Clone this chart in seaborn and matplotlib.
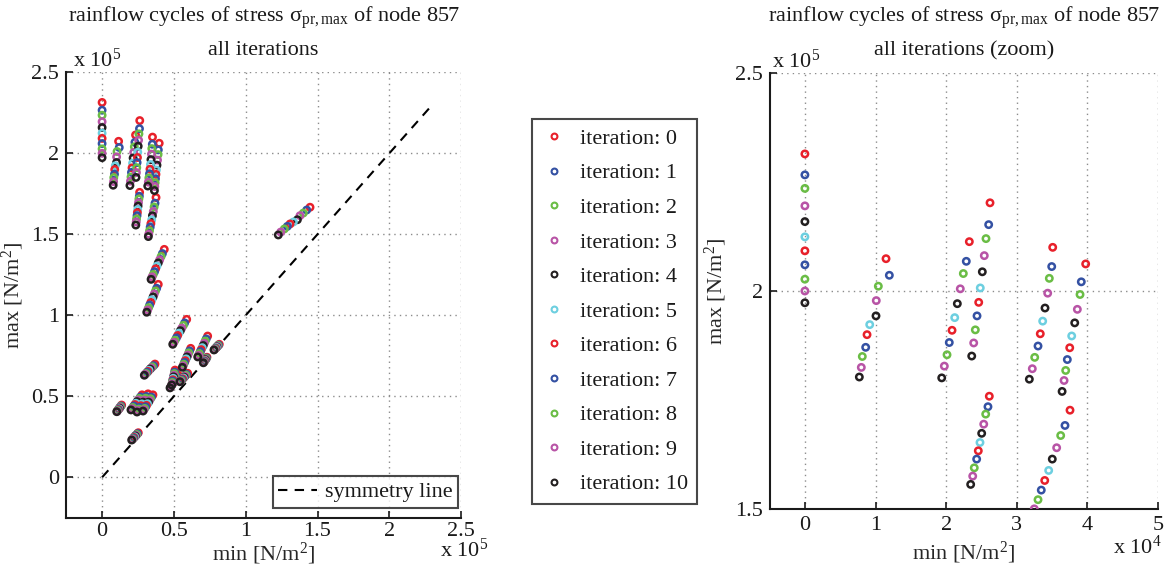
import matplotlib
matplotlib.use("Agg")
import matplotlib.pyplot as plt
import seaborn as sns
import pandas as pd
from matplotlib.ticker import FuncFormatter, MultipleLocator
from matplotlib.lines import Line2D

# ---------------- data (N/m^2) ----------------
iterations = [0, 1, 2, 3, 4, 5, 6, 7, 8, 9, 10]
iteration_labels = ["iteration: %d" % i for i in iterations]
iter_colors = ["#E8202A", "#3451A3", "#6ABD45", "#B854A6", "#231F20", "#6DCFE0",
               "#E8202A", "#3451A3", "#6ABD45", "#B854A6", "#231F20"]

# each cycle: min / max value for iterations 0..10
cA_min = [0, 0, 0, 0, 0, 0, 0, 0, 0, 0, 0]
cA_max = [231400, 226600, 223500, 219500, 215900, 212400, 209200, 206000, 202700, 200000, 197300]
cB_min = [11490, 11960, 10400, 10110, 10070, 9180, 8800, 8610, 8130, 7990, 7710]
cB_max = [207400, 203600, 201100, 197800, 194300, 192300, 190000, 187100, 185000, 182500, 180300]
cG_min = [26220, 26030, 25650, 25410, 25130, 24840, 24620, 24380, 24140, 23910, 23630]
cG_max = [220200, 215200, 212000, 208100, 204400, 200700, 197400, 194300, 191100, 188100, 185100]
cH_min = [23290, 22860, 22440, 22010, 21590, 21220, 20840, 20450, 20130, 19750, 19380]
cH_max = [211300, 206800, 204000, 200500, 197100, 193900, 191000, 188200, 185400, 182800, 180100]
cI_min = [26120, 25930, 25610, 25330, 25040, 24800, 24560, 24330, 23990, 23770, 23480]
cI_max = [175900, 173500, 171800, 169500, 167400, 165300, 163400, 161500, 159500, 157600, 155700]
cD_min = [35100, 34960, 34620, 34390, 34010, 33680, 33340, 33020, 32550, 32210, 31790]
cD_max = [210000, 205600, 202900, 199500, 196100, 193100, 190200, 187400, 184800, 182200, 179800]
cE_min = [39770, 39150, 38970, 38590, 38220, 37790, 37510, 37170, 36940, 36710, 36430]
cE_max = [206200, 202100, 199200, 195800, 192700, 189700, 187000, 184300, 181800, 179500, 177000]
cF_min = [37550, 36840, 36230, 35660, 35040, 34530, 33970, 33480, 33020, 32490, 32200]
cF_max = [172700, 169200, 166900, 164100, 161500, 158900, 156600, 154400, 152200, 150100, 148600]
cJ_min = [144800, 142500, 140100, 137800, 136000, 133200, 130900, 129000, 126900, 124400, 122700]
cJ_max = [166700, 165000, 163100, 161500, 159000, 157600, 156400, 154900, 153300, 151400, 149600]
cK_min = [43300, 42000, 41100, 40100, 39100, 38200, 37300, 36500, 35600, 34800, 34100]
cK_max = [140700, 138100, 136300, 134200, 132300, 130400, 128700, 126900, 125200, 123700, 122200]
cL_min = [39100, 38000, 37200, 36300, 35500, 34700, 33900, 33100, 32400, 31700, 31100]
cL_max = [119100, 116700, 115000, 113100, 111300, 109600, 107900, 106300, 104700, 103300, 101900]
cM_min = [58900, 57500, 56600, 55500, 54500, 53500, 52600, 51700, 50800, 50000, 49200]
cM_max = [97500, 95300, 93800, 92100, 90500, 89000, 87500, 86000, 84600, 83300, 82100]
cN_min = [36800, 35800, 35000, 34200, 33400, 32700, 32000, 31300, 30600, 30000, 29400]
cN_max = [69900, 68900, 68200, 67500, 66800, 66100, 65400, 64800, 64100, 63600, 63000]
cO_min = [73500, 72500, 71800, 71100, 70400, 69700, 69000, 68400, 67700, 67200, 66600]
cO_max = [87200, 85400, 84100, 82700, 81300, 80000, 78800, 77600, 76400, 75300, 74300]
cP_min = [61700, 60900, 60300, 59700, 59100, 58500, 57900, 57400, 56800, 56400, 55900]
cP_max = [79600, 78000, 76800, 75500, 74300, 73100, 72000, 70900, 69800, 68800, 67900]
cQ_min = [81600, 81100, 80700, 80300, 79900, 79600, 79200, 78800, 78500, 78200, 77900]
cQ_max = [82100, 81600, 81300, 80900, 80500, 80200, 79800, 79500, 79200, 78900, 78600]
cR_min = [73000, 72700, 72400, 72100, 71900, 71600, 71400, 71100, 70900, 70700, 70500]
cR_max = [74100, 73600, 73300, 72900, 72600, 72200, 71900, 71600, 71200, 71000, 70700]
cS_min = [50800, 50500, 50300, 50000, 49800, 49500, 49300, 49100, 48900, 48700, 48500]
cS_max = [66200, 64900, 64000, 63000, 62000, 61100, 60200, 59400, 58500, 57700, 57000]
cT_min = [59600, 58800, 58300, 57700, 57100, 56600, 56100, 55600, 55100, 54600, 54200]
cT_max = [64200, 63500, 63000, 62400, 61800, 61300, 60800, 60300, 59800, 59400, 59000]
cS2_min = [52900, 52100, 51600, 50900, 50400, 49800, 49300, 48700, 48200, 47800, 47300]
cS2_max = [63200, 62100, 61300, 60400, 59600, 58800, 58000, 57200, 56500, 55800, 55200]
cU_min = [13600, 13100, 12800, 12400, 12100, 11700, 11400, 11100, 10700, 10500, 10200]
cU_max = [44600, 44000, 43600, 43200, 42700, 42300, 41900, 41600, 41200, 40800, 40500]
cV1_min = [27800, 26700, 26000, 25100, 24300, 23500, 22800, 22100, 21300, 20700, 20100]
cV1_max = [50900, 49600, 48700, 47700, 46700, 45700, 44900, 44000, 43100, 42300, 41600]
cV2_min = [32000, 30900, 30200, 29300, 28500, 27700, 27000, 26300, 25500, 24900, 24300]
cV2_max = [51500, 49900, 48800, 47600, 46400, 45300, 44200, 43200, 42100, 41200, 40300]
cV3_min = [35400, 34400, 33700, 33000, 32300, 31600, 30900, 30300, 29600, 29100, 28500]
cV3_max = [50900, 49500, 48500, 47400, 46400, 45400, 44400, 43500, 42500, 41700, 40900]
cW_min = [25200, 24600, 24100, 23600, 23100, 22700, 22200, 21800, 21300, 21000, 20600]
cW_max = [27500, 26900, 26400, 25900, 25500, 25000, 24600, 24200, 23700, 23400, 23000]

sym_x = [0, 230000]
sym_y = [0, 230000]

cycles = [(cA_min, cA_max), (cB_min, cB_max), (cG_min, cG_max), (cH_min, cH_max),
          (cI_min, cI_max), (cD_min, cD_max), (cE_min, cE_max), (cF_min, cF_max),
          (cJ_min, cJ_max), (cK_min, cK_max), (cL_min, cL_max), (cM_min, cM_max),
          (cN_min, cN_max), (cO_min, cO_max), (cP_min, cP_max), (cQ_min, cQ_max),
          (cR_min, cR_max), (cS_min, cS_max), (cT_min, cT_max), (cS2_min, cS2_max),
          (cU_min, cU_max), (cV1_min, cV1_max), (cV2_min, cV2_max), (cV3_min, cV3_max),
          (cW_min, cW_max)]

rows = []
for it in iterations:
    for mn, mx in cycles:
        rows.append({"iteration": iteration_labels[it], "min": mn[it], "max": mx[it]})
df = pd.DataFrame(rows)
palette = dict(zip(iteration_labels, iter_colors))

# ---------------- style ----------------
sns.set_theme(style="white")
plt.rcParams["font.family"] = ["Liberation Serif", "DejaVu Serif"]
plt.rcParams["mathtext.fontset"] = "custom"
plt.rcParams["mathtext.rm"] = "Liberation Serif"
plt.rcParams["mathtext.it"] = "Liberation Serif:italic"
plt.rcParams["mathtext.bf"] = "Liberation Serif:bold"
plt.rcParams["text.color"] = "#1a1a1a"

FS = 16
fig = plt.figure(figsize=(11.73, 5.71), dpi=100)
W, H = 1173.0, 571.0
ax1 = fig.add_axes([66.2 / W, 1 - 517.8 / H, 394.9 / W, 445.5 / H])
ax2 = fig.add_axes([769.6 / W, 1 - 509.3 / H, 388.3 / W, 436.6 / H])

title1 = "rainflow cycles of stress $\\mathrm{\\sigma_{pr,max}}$ of node 857"


def draw_points(ax):
    sns.scatterplot(data=df, x="min", y="max", hue="iteration",
                    hue_order=iteration_labels, palette=palette, ax=ax,
                    legend=False, s=21, linewidth=1.8, zorder=3)
    coll = ax.collections[-1]
    coll.set_edgecolors(coll.get_facecolors())
    coll.set_facecolors("none")


def style_axes(ax, xpad, xlabelpad):
    for side in ("top", "right"):
        ax.spines[side].set_visible(False)
    for side in ("left", "bottom"):
        ax.spines[side].set_color("#1a1a1a")
        ax.spines[side].set_linewidth(1.5)
    ax.grid(True, linestyle=(0, (1, 3)), color="#8c8c8c", linewidth=1.0)
    ax.set_axisbelow(True)
    ax.tick_params(direction="in", length=5, width=1.2, color="#1a1a1a",
                   labelsize=FS, pad=5, left=True, bottom=True,
                   top=False, right=False, labelcolor="#1a1a1a")
    ax.tick_params(axis="x", pad=xpad)
    ax.set_xlabel("min [N/m$^2$]", fontsize=FS, labelpad=xlabelpad)
    ax.set_ylabel("max [N/m$^2$]", fontsize=FS, labelpad=4)


def titles(ax, line2, y1, y2):
    ax.text(0.5, y1, title1, transform=ax.transAxes, fontsize=FS,
            ha="center", va="baseline")
    ax.text(0.5, y2, line2, transform=ax.transAxes, fontsize=FS,
            ha="center", va="baseline")


# ---- left axes ----
draw_points(ax1)
sns.lineplot(x=sym_x, y=sym_y, ax=ax1, color="black", linewidth=1.5,
             linestyle=(0, (4.5, 3.5)), label="symmetry line", zorder=2)
ax1.set_xlim(-25000, 250000)
ax1.set_ylim(-25000, 250000)
ax1.xaxis.set_major_locator(MultipleLocator(50000))
ax1.yaxis.set_major_locator(MultipleLocator(50000))
fmt5 = FuncFormatter(lambda v, p: "%g" % round(v / 1e5, 3))
ax1.xaxis.set_major_formatter(fmt5)
ax1.yaxis.set_major_formatter(fmt5)
style_axes(ax1, 3, 0)
titles(ax1, "all iterations", 1.113, 1.039)
leg1 = ax1.legend(loc="lower right", bbox_to_anchor=(0.993, 0.022), fontsize=FS,
                  frameon=True, fancybox=False, edgecolor="#1a1a1a",
                  handlelength=1.75, handletextpad=0.35, borderpad=0.25,
                  borderaxespad=0.0)
leg1.get_frame().set_linewidth(1.5)
ax1.text(0.016, 1.012, "x 10$^5$", transform=ax1.transAxes, fontsize=FS,
         ha="left", va="baseline")
ax1.text(0.947, -0.088, "x 10$^5$", transform=ax1.transAxes, fontsize=FS,
         ha="left", va="baseline")

# ---- right axes (zoom) ----
draw_points(ax2)
ax2.set_xlim(-5000, 50000)
ax2.set_ylim(150000, 250000)
ax2.xaxis.set_major_locator(MultipleLocator(10000))
ax2.yaxis.set_major_locator(MultipleLocator(50000))
ax2.xaxis.set_major_formatter(FuncFormatter(lambda v, p: "%g" % round(v / 1e4, 3)))
ax2.yaxis.set_major_formatter(fmt5)
style_axes(ax2, 5, 3)
titles(ax2, "all iterations (zoom)", 1.116, 1.0405)
ax2.text(0.006, 1.012, "x 10$^5$", transform=ax2.transAxes, fontsize=FS,
         ha="left", va="baseline")
ax2.text(0.884, -0.101, "x 10$^4$", transform=ax2.transAxes, fontsize=FS,
         ha="left", va="baseline")

# ---- iteration legend ----
handles = [Line2D([], [], linestyle="none", marker="o", markersize=4.2,
                  markerfacecolor="none", markeredgecolor=c, markeredgewidth=1.5)
           for c in iter_colors]
leg2 = fig.legend(handles, iteration_labels, loc="upper left",
                  bbox_to_anchor=(531.7 / W, 1 - 119.0 / H), fontsize=FS,
                  frameon=True, fancybox=False, edgecolor="#1a1a1a",
                  handlelength=1.2, handletextpad=0.55, labelspacing=0.63,
                  borderpad=0.42, borderaxespad=0.0)
leg2.get_frame().set_linewidth(1.5)

fig.savefig("out.png", dpi=100)
